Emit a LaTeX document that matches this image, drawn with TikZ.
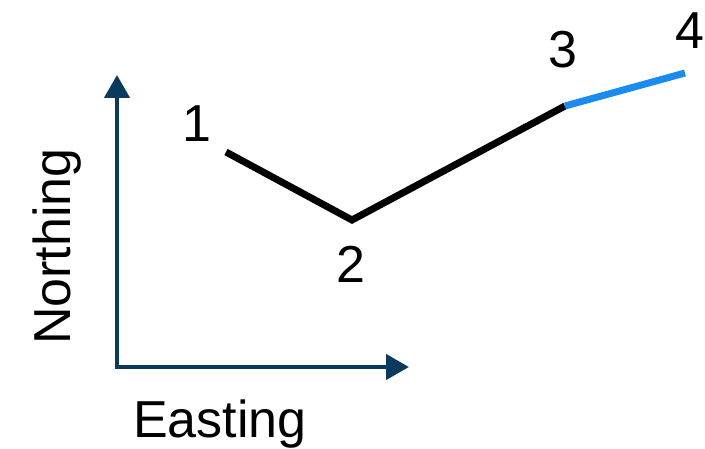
\documentclass[tikz,border=0pt]{standalone}
\usepackage{fontspec}
\setmainfont{Liberation Sans}
\usetikzlibrary{arrows.meta}
\definecolor{axisblue}{HTML}{0B3A5C}
\definecolor{segblue}{HTML}{1A8CF0}
\begin{document}
\begin{tikzpicture}[x=1pt,y=-1pt,
  lbl/.style={inner sep=0pt,font=\fontsize{52}{60}\selectfont},
  axisline/.style={draw=axisblue,line width=4.5pt,
    {Triangle[width=25pt,length=23pt]}-{Triangle[width=25pt,length=23pt]}},
  track/.style={line width=7pt}]
\useasboundingbox (0,0) rectangle (705,449);
\coordinate (ytip) at (117,75);
\coordinate (orig) at (117,367);
\coordinate (xtip) at (409,367);
\draw[axisline] (ytip) -- (orig) -- (xtip);
\node[lbl,anchor=base west] (east) at (133,437) {Easting};
\node[lbl,anchor=base west,rotate=90] (north) at (70,345) {Northing};
\coordinate (p1) at (226,152);
\coordinate (p2) at (352,220);
\coordinate (p3) at (565,106);
\coordinate (p4) at (685,73);
\draw[track,black] (p1) -- (p2) -- (p3);
\draw[track,segblue] (p3) -- (p4);
\node[lbl] (l1) at (197,124) {1};
\node[lbl] (l2) at (351,264) {2};
\node[lbl] (l3) at (563,50) {3};
\node[lbl] (l4) at (690,31) {4};
\end{tikzpicture}
\end{document}
